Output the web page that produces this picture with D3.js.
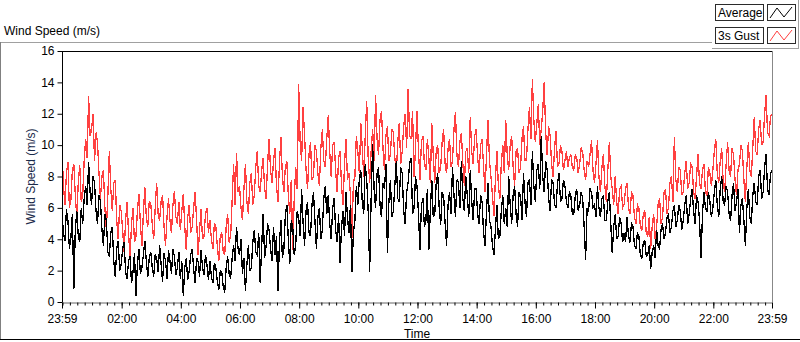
<!DOCTYPE html>
<html>
<head>
    <title></title>
    <script src="https://cdn.jsdelivr.net/npm/d3@7"></script>
    <style>
        body { margin: 0; background: #ffffff; }
        text { font-family: "Liberation Sans", sans-serif; font-size: 12px; fill: #000000; }
        .ytitle { fill: #1a2a4a; }
    </style>
</head>
<body>

<script type="text/javascript">

    // one reading every 3 minutes, 23:59 -> 23:59 next day (20 per row = 1 hour)
    var average = [
        5.6, 4.4, 3.9, 5.9, 5.2, 3.4, 4.1, 5.6, 0.8, 4.6, 5.8, 4.2, 3.8, 6.0, 5.0, 6.6, 7.4, 6.2, 8.9, 7.0,
        6.2, 8.0, 7.6, 5.8, 5.0, 6.8, 6.4, 4.6, 3.6, 5.6, 5.2, 3.2, 2.9, 4.4, 4.8, 2.6, 1.6, 3.4, 3.9, 2.0,
        2.4, 3.4, 3.8, 1.9, 1.5, 2.6, 2.9, 1.2, 1.9, 3.1, 0.4, 2.4, 3.4, 1.8, 2.2, 3.0, 3.9, 2.6, 1.6, 2.8,
        3.2, 2.2, 1.6, 3.0, 2.8, 1.9, 3.6, 2.4, 1.3, 3.1, 2.6, 1.5, 3.3, 2.6, 1.8, 3.4, 2.9, 1.7, 2.2, 3.2,
        1.5, 2.6, 0.4, 2.2, 2.8, 1.4, 2.0, 3.0, 3.4, 2.1, 1.2, 2.8, 2.6, 1.6, 3.3, 2.2, 1.7, 3.0, 2.4, 1.4,
        2.6, 1.6, 1.2, 2.5, 2.2, 1.3, 0.8, 2.0, 1.9, 1.0, 0.6, 2.2, 2.9, 1.8, 1.5, 2.8, 3.6, 2.6, 4.8, 3.4,
        3.0, 4.0, 1.8, 2.8, 0.7, 2.4, 3.6, 2.0, 2.2, 3.8, 4.6, 3.2, 3.0, 4.4, 1.2, 3.6, 5.6, 2.8, 3.6, 5.0,
        4.6, 3.4, 2.6, 4.8, 3.0, 4.2, 0.7, 3.8, 5.2, 2.8, 3.4, 5.6, 6.2, 4.0, 2.4, 5.2, 4.8, 3.0, 3.6, 5.8,
        5.4, 4.2, 7.2, 5.0, 3.6, 5.8, 6.4, 4.4, 4.2, 6.2, 7.0, 5.2, 3.4, 5.4, 6.0, 4.0, 4.6, 6.6, 7.4, 5.6,
        6.8, 5.0, 4.0, 6.0, 6.6, 4.6, 3.8, 5.6, 2.5, 4.8, 5.8, 4.2, 7.0, 5.4, 4.4, 6.2, 1.9, 4.4, 5.2, 7.4,
        6.2, 7.8, 8.4, 6.4, 5.6, 8.8, 7.8, 5.8, 1.9, 6.6, 10.1, 7.2, 6.0, 8.2, 8.6, 6.2, 5.4, 7.6, 7.2, 8.8,
        3.1, 6.4, 7.8, 5.4, 5.8, 7.4, 9.0, 6.6, 6.4, 8.6, 8.2, 5.8, 5.0, 7.0, 7.6, 8.8, 9.2, 5.6, 6.0, 8.0,
        7.4, 5.6, 3.3, 6.2, 6.6, 4.8, 5.2, 7.2, 3.3, 5.8, 7.8, 5.4, 5.6, 7.6, 8.2, 6.0, 4.9, 7.0, 6.8, 5.0,
        3.6, 6.2, 7.0, 5.6, 8.6, 6.8, 5.4, 7.8, 7.6, 6.0, 9.0, 6.6, 5.8, 8.0, 6.8, 5.4, 8.4, 6.4, 5.2, 7.2,
        7.2, 5.6, 5.0, 6.8, 6.4, 4.4, 3.6, 5.8, 7.6, 5.2, 4.8, 3.6, 3.0, 4.6, 6.2, 4.0, 4.2, 5.8, 6.8, 5.0,
        6.0, 4.8, 8.0, 6.2, 5.0, 6.8, 7.4, 5.6, 4.8, 7.0, 6.8, 5.2, 8.2, 6.4, 5.4, 7.6, 7.8, 6.2, 9.6, 7.4,
        6.4, 8.4, 8.8, 7.2, 10.6, 8.0, 7.0, 9.0, 8.4, 6.6, 5.8, 7.8, 7.6, 6.2, 6.0, 7.6, 8.2, 6.4, 6.6, 7.8,
        7.4, 6.4, 6.0, 7.0, 6.8, 5.6, 5.6, 6.8, 7.2, 5.8, 6.2, 7.0, 6.6, 4.8, 2.7, 6.0, 5.8, 7.2, 7.0, 6.0,
        6.2, 5.4, 7.4, 6.0, 5.4, 6.6, 6.8, 5.2, 5.2, 6.4, 7.0, 5.0, 3.1, 4.8, 5.6, 4.0, 4.2, 5.4, 5.0, 3.8,
        4.4, 3.8, 5.4, 4.2, 3.8, 5.0, 4.8, 3.6, 3.4, 4.4, 4.2, 3.0, 2.8, 3.8, 3.9, 2.9, 3.0, 3.6, 2.1, 3.2,
        3.6, 2.8, 4.6, 3.6, 3.4, 4.6, 5.0, 4.0, 4.4, 5.4, 5.6, 4.4, 4.8, 5.8, 6.2, 4.8, 5.2, 6.2, 5.8, 4.6,
        5.2, 6.2, 6.8, 5.0, 5.6, 6.6, 7.2, 5.8, 5.0, 6.8, 6.4, 5.2, 2.8, 5.6, 7.0, 6.0, 5.8, 7.0, 6.4, 5.4,
        6.0, 7.0, 7.8, 6.2, 5.4, 7.2, 8.0, 6.4, 6.2, 7.4, 7.0, 5.6, 5.2, 6.8, 7.6, 5.8, 6.4, 7.2, 4.4, 6.2,
        6.6, 5.2, 3.6, 6.0, 7.2, 5.4, 5.0, 6.8, 7.6, 6.4, 6.2, 8.0, 8.4, 6.6, 7.0, 8.6, 9.4, 7.2, 6.8, 8.2,
        8.4
    ];

    var gust = [
        9.6, 7.4, 6.2, 8.2, 8.9, 6.0, 6.5, 8.4, 8.8, 6.8, 5.4, 7.6, 8.7, 6.4, 6.8, 9.0, 10.4, 9.2, 13.1, 10.6,
        11.0, 12.0, 9.0, 10.8, 10.2, 8.2, 6.6, 8.0, 8.4, 6.0, 4.6, 6.8, 9.6, 7.2, 5.8, 7.6, 7.8, 5.2, 4.0, 6.2,
        5.8, 4.6, 3.2, 5.2, 6.4, 4.4, 2.8, 5.0, 6.0, 3.8, 4.2, 5.8, 6.9, 5.0, 3.6, 5.6, 7.3, 5.4, 4.8, 6.4,
        6.3, 5.0, 4.0, 6.0, 7.6, 5.6, 5.2, 6.4, 6.8, 4.8, 3.6, 5.4, 6.6, 5.2, 4.4, 6.2, 7.1, 5.4, 5.0, 6.4,
        4.6, 5.8, 6.9, 4.8, 3.3, 5.4, 6.2, 4.4, 4.8, 6.0, 7.0, 5.2, 3.0, 4.6, 5.9, 4.0, 4.2, 5.6, 6.0, 4.4,
        5.2, 4.0, 3.4, 5.0, 4.8, 3.6, 2.6, 4.2, 4.4, 3.2, 3.0, 4.8, 5.6, 3.8, 4.2, 6.4, 8.8, 6.2, 9.5, 7.0,
        7.4, 6.0, 5.2, 7.2, 8.8, 6.4, 5.6, 7.6, 8.2, 6.2, 6.8, 8.6, 9.6, 7.4, 7.0, 8.4, 9.2, 7.2, 6.6, 8.8,
        10.4, 8.4, 7.6, 9.0, 9.8, 7.4, 6.4, 8.8, 10.5, 8.0, 7.0, 8.6, 9.0, 6.8, 5.6, 7.8, 3.3, 6.6, 8.6, 7.2,
        13.9, 10.2, 9.0, 12.4, 10.6, 8.4, 7.2, 9.4, 10.2, 7.8, 8.0, 10.0, 9.6, 8.2, 7.4, 9.8, 11.0, 9.0, 8.6, 10.4,
        11.9, 9.6, 8.0, 10.0, 10.2, 8.4, 7.0, 9.2, 9.6, 7.4, 6.2, 8.8, 10.4, 7.8, 8.2, 6.8, 4.1, 7.6, 8.0, 10.6,
        9.6, 8.2, 11.4, 9.8, 8.0, 10.6, 12.8, 9.2, 7.6, 9.6, 11.0, 9.0, 13.2, 10.4, 9.4, 11.6, 12.2, 9.8, 8.4, 10.6,
        11.2, 9.0, 9.4, 11.0, 10.8, 9.2, 8.2, 10.2, 11.4, 8.8, 9.6, 11.2, 12.0, 9.8, 13.6, 10.6, 10.4, 12.2, 8.0, 9.8,
        12.2, 9.6, 7.8, 10.2, 10.6, 8.8, 8.4, 10.4, 9.2, 7.6, 11.4, 9.4, 7.6, 9.6, 10.0, 8.2, 8.6, 10.2, 11.0, 8.8,
        8.2, 9.8, 10.4, 8.6, 9.0, 11.0, 12.1, 9.4, 8.6, 10.2, 10.8, 8.8, 7.4, 9.6, 9.8, 8.2, 11.8, 9.6, 8.8, 10.6,
        11.0, 9.2, 8.2, 10.0, 10.4, 8.6, 7.0, 9.4, 11.6, 9.0, 8.0, 6.8, 5.5, 7.8, 9.6, 7.4, 6.6, 8.8, 10.0, 8.2,
        11.6, 9.4, 8.4, 10.0, 10.6, 8.6, 7.4, 9.6, 9.8, 8.2, 8.6, 10.4, 11.2, 9.0, 9.0, 11.0, 12.4, 10.4, 14.2, 11.6,
        10.2, 11.4, 12.6, 10.0, 11.0, 12.2, 14.0, 10.8, 9.4, 11.2, 10.6, 8.8, 8.0, 9.8, 10.9, 8.6, 8.8, 10.0, 9.6, 8.4,
        9.0, 9.6, 8.6, 9.2, 9.4, 8.6, 8.4, 9.4, 9.2, 8.2, 8.8, 9.8, 9.6, 8.4, 7.8, 9.0, 8.6, 9.4, 10.3, 8.4,
        7.6, 8.8, 10.3, 8.0, 7.0, 8.6, 9.4, 7.4, 6.4, 8.4, 10.2, 8.0, 7.2, 6.2, 8.0, 6.4, 5.6, 7.2, 7.4, 6.0,
        6.2, 7.2, 7.6, 6.0, 5.6, 7.0, 6.8, 5.4, 5.0, 6.2, 6.0, 4.8, 4.6, 5.6, 5.8, 4.4, 4.2, 5.4, 3.4, 4.8,
        5.6, 4.0, 4.8, 6.2, 6.6, 5.0, 5.4, 7.0, 7.2, 5.6, 6.0, 7.6, 8.0, 6.4, 10.5, 7.8, 7.0, 8.6, 8.4, 6.8,
        7.0, 8.2, 9.0, 7.2, 7.6, 8.8, 8.6, 7.0, 6.6, 8.0, 9.4, 7.6, 7.2, 8.4, 8.8, 7.0, 6.8, 8.6, 8.2, 7.4,
        8.4, 9.6, 10.4, 8.2, 7.6, 9.0, 9.8, 7.6, 7.0, 8.8, 10.2, 8.4, 8.0, 9.8, 9.4, 7.8, 6.8, 8.4, 8.8, 10.0,
        9.6, 7.8, 6.4, 8.6, 10.2, 8.4, 8.0, 9.8, 11.8, 9.6, 9.4, 11.0, 11.6, 10.0, 10.2, 12.0, 13.2, 10.8, 10.6, 11.8,
        12.0
    ];

    var yTicks = [0, 2, 4, 6, 8, 10, 12, 14, 16];
    var xTickLabels = ["23:59", "02:00", "04:00", "06:00", "08:00", "10:00", "12:00",
                       "14:00", "16:00", "18:00", "20:00", "22:00", "23:59"];
    var seriesNames = ["Average", "3s Gust"];
    var seriesColors = ["#000000", "#ff4040"];

    var w = 800,
        h = 342,
        pLeft = 62,
        pRight = 772,
        pTop = 51,
        pBottom = 302,
        stepMin = 3;

    var start = new Date(2020, 0, 1, 23, 59),
        end = new Date(2020, 0, 2, 23, 59);

    var svg = d3.select("body")
            .append("svg")
            .attr("width", w)
            .attr("height", h);

    var x = d3.scaleTime().domain([start, end]).range([pLeft, pRight]);
    var y = d3.scaleLinear().domain([0, 16]).range([pBottom, pTop]);

    function timeAt(i) {
        return new Date(start.getTime() + i * stepMin * 60000);
    }

    // outer panel edges
    svg.append("line").attr("x1", 0).attr("x2", 712).attr("y1", 42.5).attr("y2", 42.5).attr("stroke", "#a0a0a0");
    svg.append("line").attr("x1", 0.5).attr("x2", 0.5).attr("y1", 42).attr("y2", 340).attr("stroke", "#808080");
    svg.append("line").attr("x1", 0).attr("x2", w).attr("y1", 339.5).attr("y2", 339.5).attr("stroke", "#000");

    svg.append("text").attr("x", 4).attr("y", 35).text("Wind Speed (m/s)");

    // legend panel
    svg.append("line").attr("x1", 712).attr("x2", 799).attr("y1", 48.5).attr("y2", 48.5).attr("stroke", "#a0a0a0");
    svg.append("line").attr("x1", 798.5).attr("x2", 798.5).attr("y1", 0).attr("y2", 49).attr("stroke", "#a0a0a0");

    var swatch = d3.line().x(function (d) { return d[0]; }).y(function (d) { return d[1]; });

    seriesNames.forEach(function (name, i) {
        var ly = 4 + i * 23;
        var g = svg.append("g").attr("transform", "translate(0," + ly + ")");
        g.append("rect").attr("x", 715.5).attr("y", 0.5).attr("width", 48).attr("height", 16)
                .attr("fill", "#fff").attr("stroke", "#2b2b2b");
        g.append("text").attr("x", 718).attr("y", 13).text(name);
        g.append("rect").attr("x", 767.5).attr("y", 0.5).attr("width", 28).attr("height", 16)
                .attr("fill", "#fff").attr("stroke", "#2b2b2b");
        g.append("path")
                .attr("d", swatch([[770, 14], [777, 4], [784, 13], [792, 3]]))
                .attr("fill", "none")
                .attr("stroke", seriesColors[i]);
    });

    // plot frame
    svg.append("rect").attr("x", pLeft).attr("y", pTop).attr("width", pRight - pLeft).attr("height", pBottom - pTop)
            .attr("fill", "#fff");
    svg.append("defs").append("clipPath").attr("id", "clip")
            .append("rect").attr("x", pLeft).attr("y", pTop).attr("width", pRight - pLeft).attr("height", pBottom - pTop);

    var line = d3.line()
            .x(function (d, i) { return x(timeAt(i)); })
            .y(function (d) { return y(d); });

    // LabVIEW draws its plots without anti-aliasing
    var plot = svg.append("g").attr("clip-path", "url(#clip)").attr("shape-rendering", "crispEdges");
    plot.append("path").datum(gust).attr("d", line)
            .attr("fill", "none").attr("stroke", seriesColors[1]).attr("stroke-width", 1.3);
    plot.append("path").datum(average).attr("d", line)
            .attr("fill", "none").attr("stroke", seriesColors[0]).attr("stroke-width", 1.3);

    svg.append("line").attr("x1", pLeft).attr("x2", pRight + 1).attr("y1", pTop + 0.5).attr("y2", pTop + 0.5).attr("stroke", "#000");
    svg.append("line").attr("x1", pLeft + 0.5).attr("x2", pLeft + 0.5).attr("y1", pTop).attr("y2", pBottom).attr("stroke", "#000");
    svg.append("line").attr("x1", pRight + 0.5).attr("x2", pRight + 0.5).attr("y1", pTop).attr("y2", pBottom).attr("stroke", "#888");

    // y axis
    var yAxis = d3.axisLeft(y).tickValues(yTicks).tickSize(5).tickPadding(3);
    var yg = svg.append("g").attr("transform", "translate(" + (pLeft + 0.5) + ",0)").call(yAxis);
    yg.select(".domain").remove();
    yg.selectAll("text").style("font-size", "12px").style("font-family", "Liberation Sans, sans-serif");

    svg.append("text").attr("class", "ytitle")
            .attr("transform", "translate(35," + ((pTop + pBottom) / 2) + ") rotate(-90)")
            .attr("text-anchor", "middle")
            .text("Wind Speed (m/s)");

    // x axis: minor ticks every 15 min, labels every 2 h
    var majorTimes = xTickLabels.map(function (d, i) {
        if (i === 0) return start;
        if (i === xTickLabels.length - 1) return end;
        return new Date(2020, 0, 2, i * 2, 0);
    });
    var minorTimes = d3.timeMinute.every(15).range(start, end);

    var xMinor = d3.axisBottom(x).tickValues(minorTimes).tickSize(3).tickFormat("");
    var xg0 = svg.append("g").attr("transform", "translate(0," + (pBottom + 0.5) + ")").call(xMinor);
    xg0.select(".domain").attr("stroke", "#666");

    var xAxis = d3.axisBottom(x).tickValues(majorTimes).tickSize(6).tickPadding(6)
            .tickFormat(function (d, i) { return xTickLabels[i]; });
    var xg = svg.append("g").attr("transform", "translate(0," + (pBottom + 0.5) + ")").call(xAxis);
    xg.select(".domain").remove();
    xg.selectAll("text").style("font-size", "12px").style("font-family", "Liberation Sans, sans-serif");

    svg.append("text").attr("x", (pLeft + pRight) / 2).attr("y", 338)
            .attr("text-anchor", "middle").text("Time");
</script>
</body>
</html>
